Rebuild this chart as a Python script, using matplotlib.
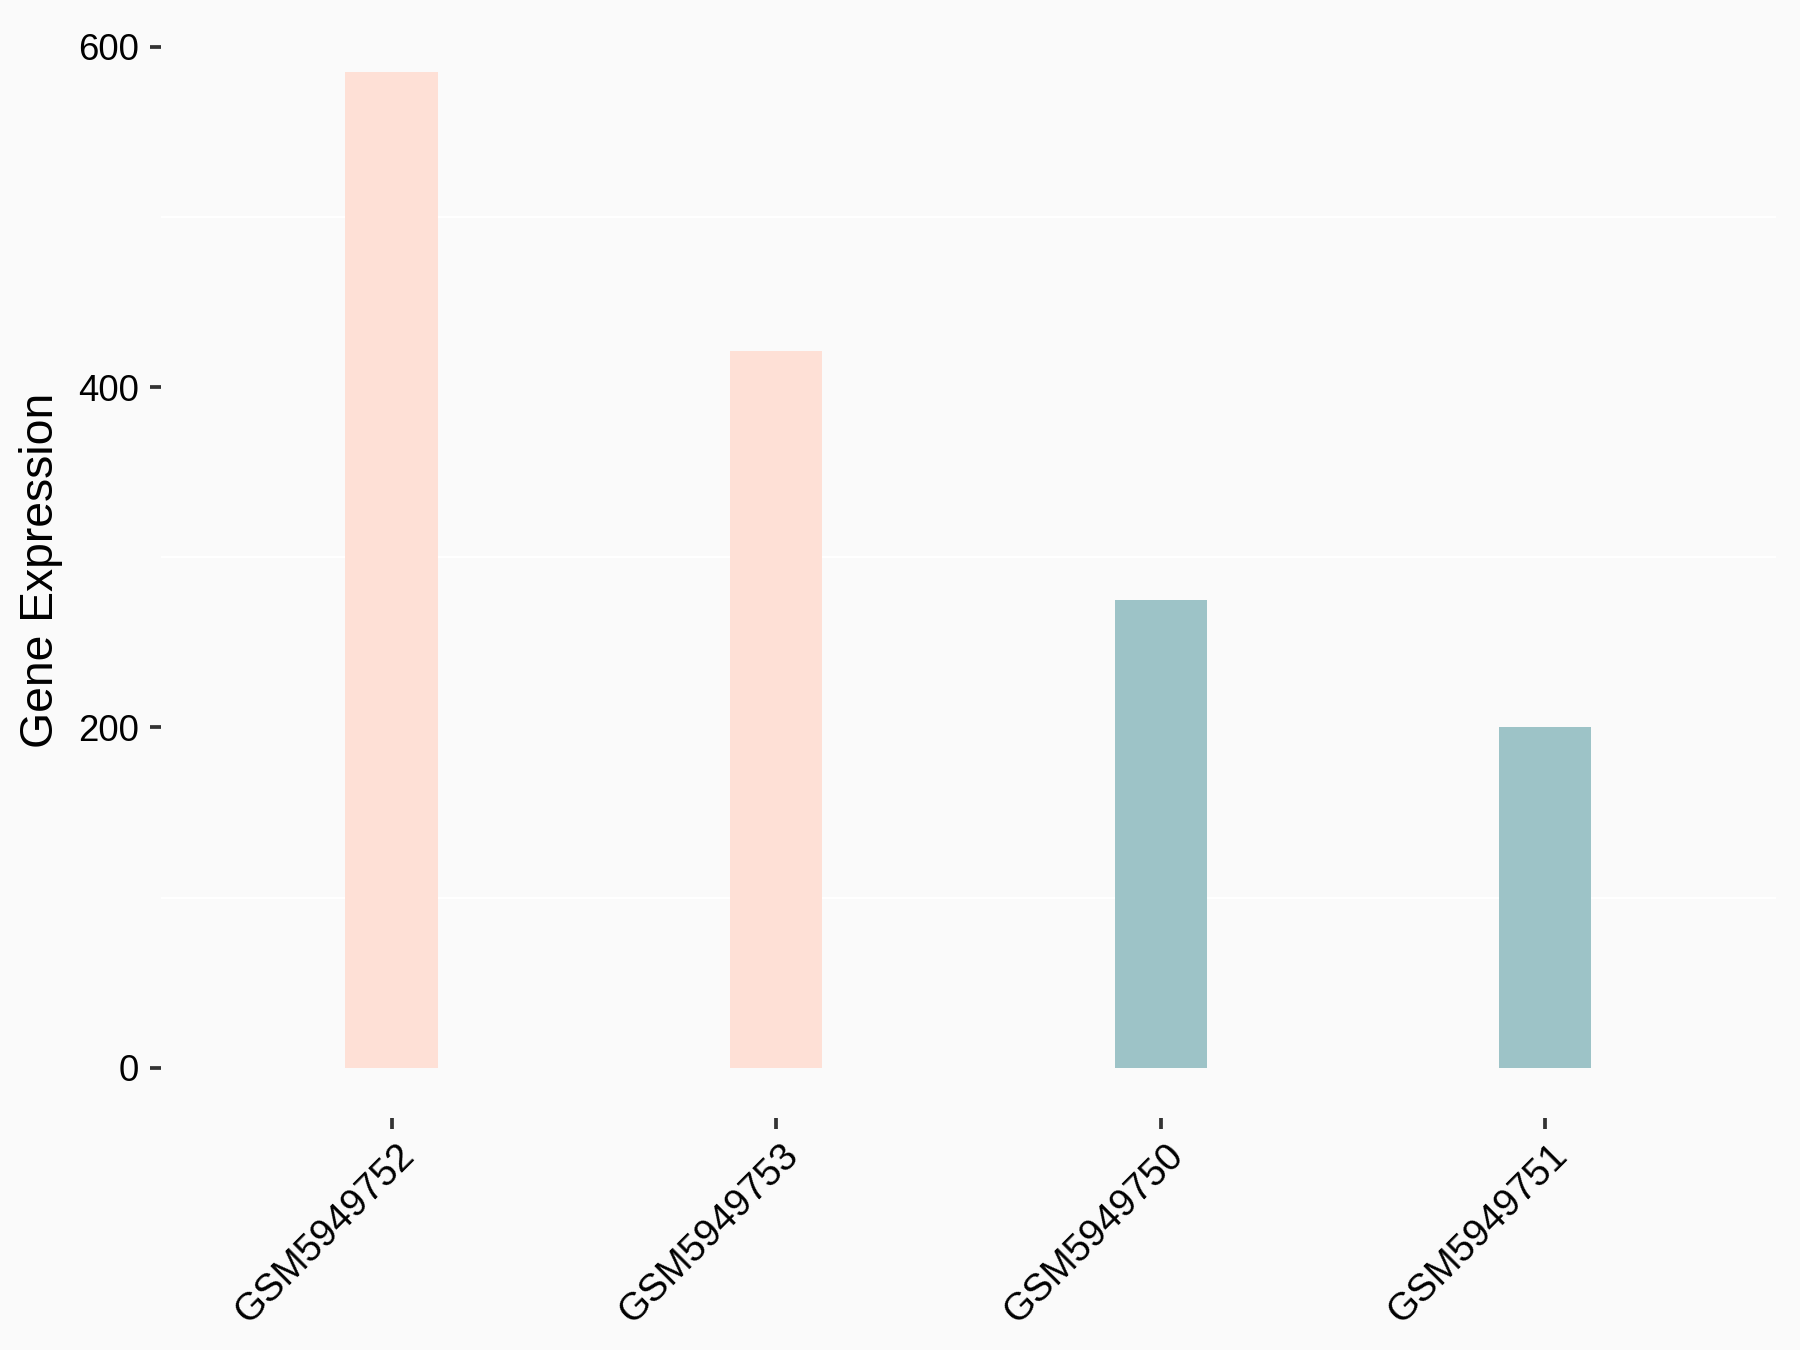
import matplotlib
matplotlib.use("Agg")
import matplotlib.pyplot as plt
import matplotlib.transforms as mtransforms

plt.rcParams['font.family'] = ['Liberation Sans', 'DejaVu Sans']

samples = ['GSM5949752', 'GSM5949753', 'GSM5949750', 'GSM5949751']
expression = [585, 421, 275, 200]
bar_colors = ['#FEE0D6', '#FEE0D6', '#9DC3C7', '#9DC3C7']
y_ticks = [0, 200, 400, 600]
grid_lines = [100, 300, 500]

bg = '#FAFAFA'
fig = plt.figure(figsize=(12, 9), dpi=150, facecolor=bg)
ax = fig.add_axes([0.0893, 0.1721, 0.8974, 0.8114], facecolor=bg)

x = list(range(len(samples)))
for g in grid_lines:
    ax.axhline(g, color='white', linewidth=1.0, zorder=0)
ax.bar(x, expression, width=0.24, color=bar_colors, zorder=2)

ax.set_xlim(-0.6, 3.6)
ax.set_ylim(-29.3, 614.3)
ax.set_yticks(y_ticks)
ax.set_xticks(x)
ax.set_xticklabels(samples)

for s in ax.spines.values():
    s.set_visible(False)

ax.tick_params(axis='both', length=5.3, width=1.8, color='#333333',
               labelcolor='black')
ax.tick_params(axis='y', labelsize=17.5, pad=5)
ax.tick_params(axis='x', labelsize=18.5, pad=4)

# nudge rotated labels so their end sits just right of the tick
offset = mtransforms.ScaledTranslation(2 / 72, 0, fig.dpi_scale_trans)
for lab in ax.get_xticklabels():
    lab.set_rotation(45)
    lab.set_ha('right')
    lab.set_rotation_mode('anchor')
    lab.set_transform(lab.get_transform() + offset)

ax.set_ylabel('Gene Expression', fontsize=22.2, color='black')
ax.yaxis.set_label_coords(-0.0605, 0.5)

fig.savefig('out.png', dpi=150, facecolor=bg)
